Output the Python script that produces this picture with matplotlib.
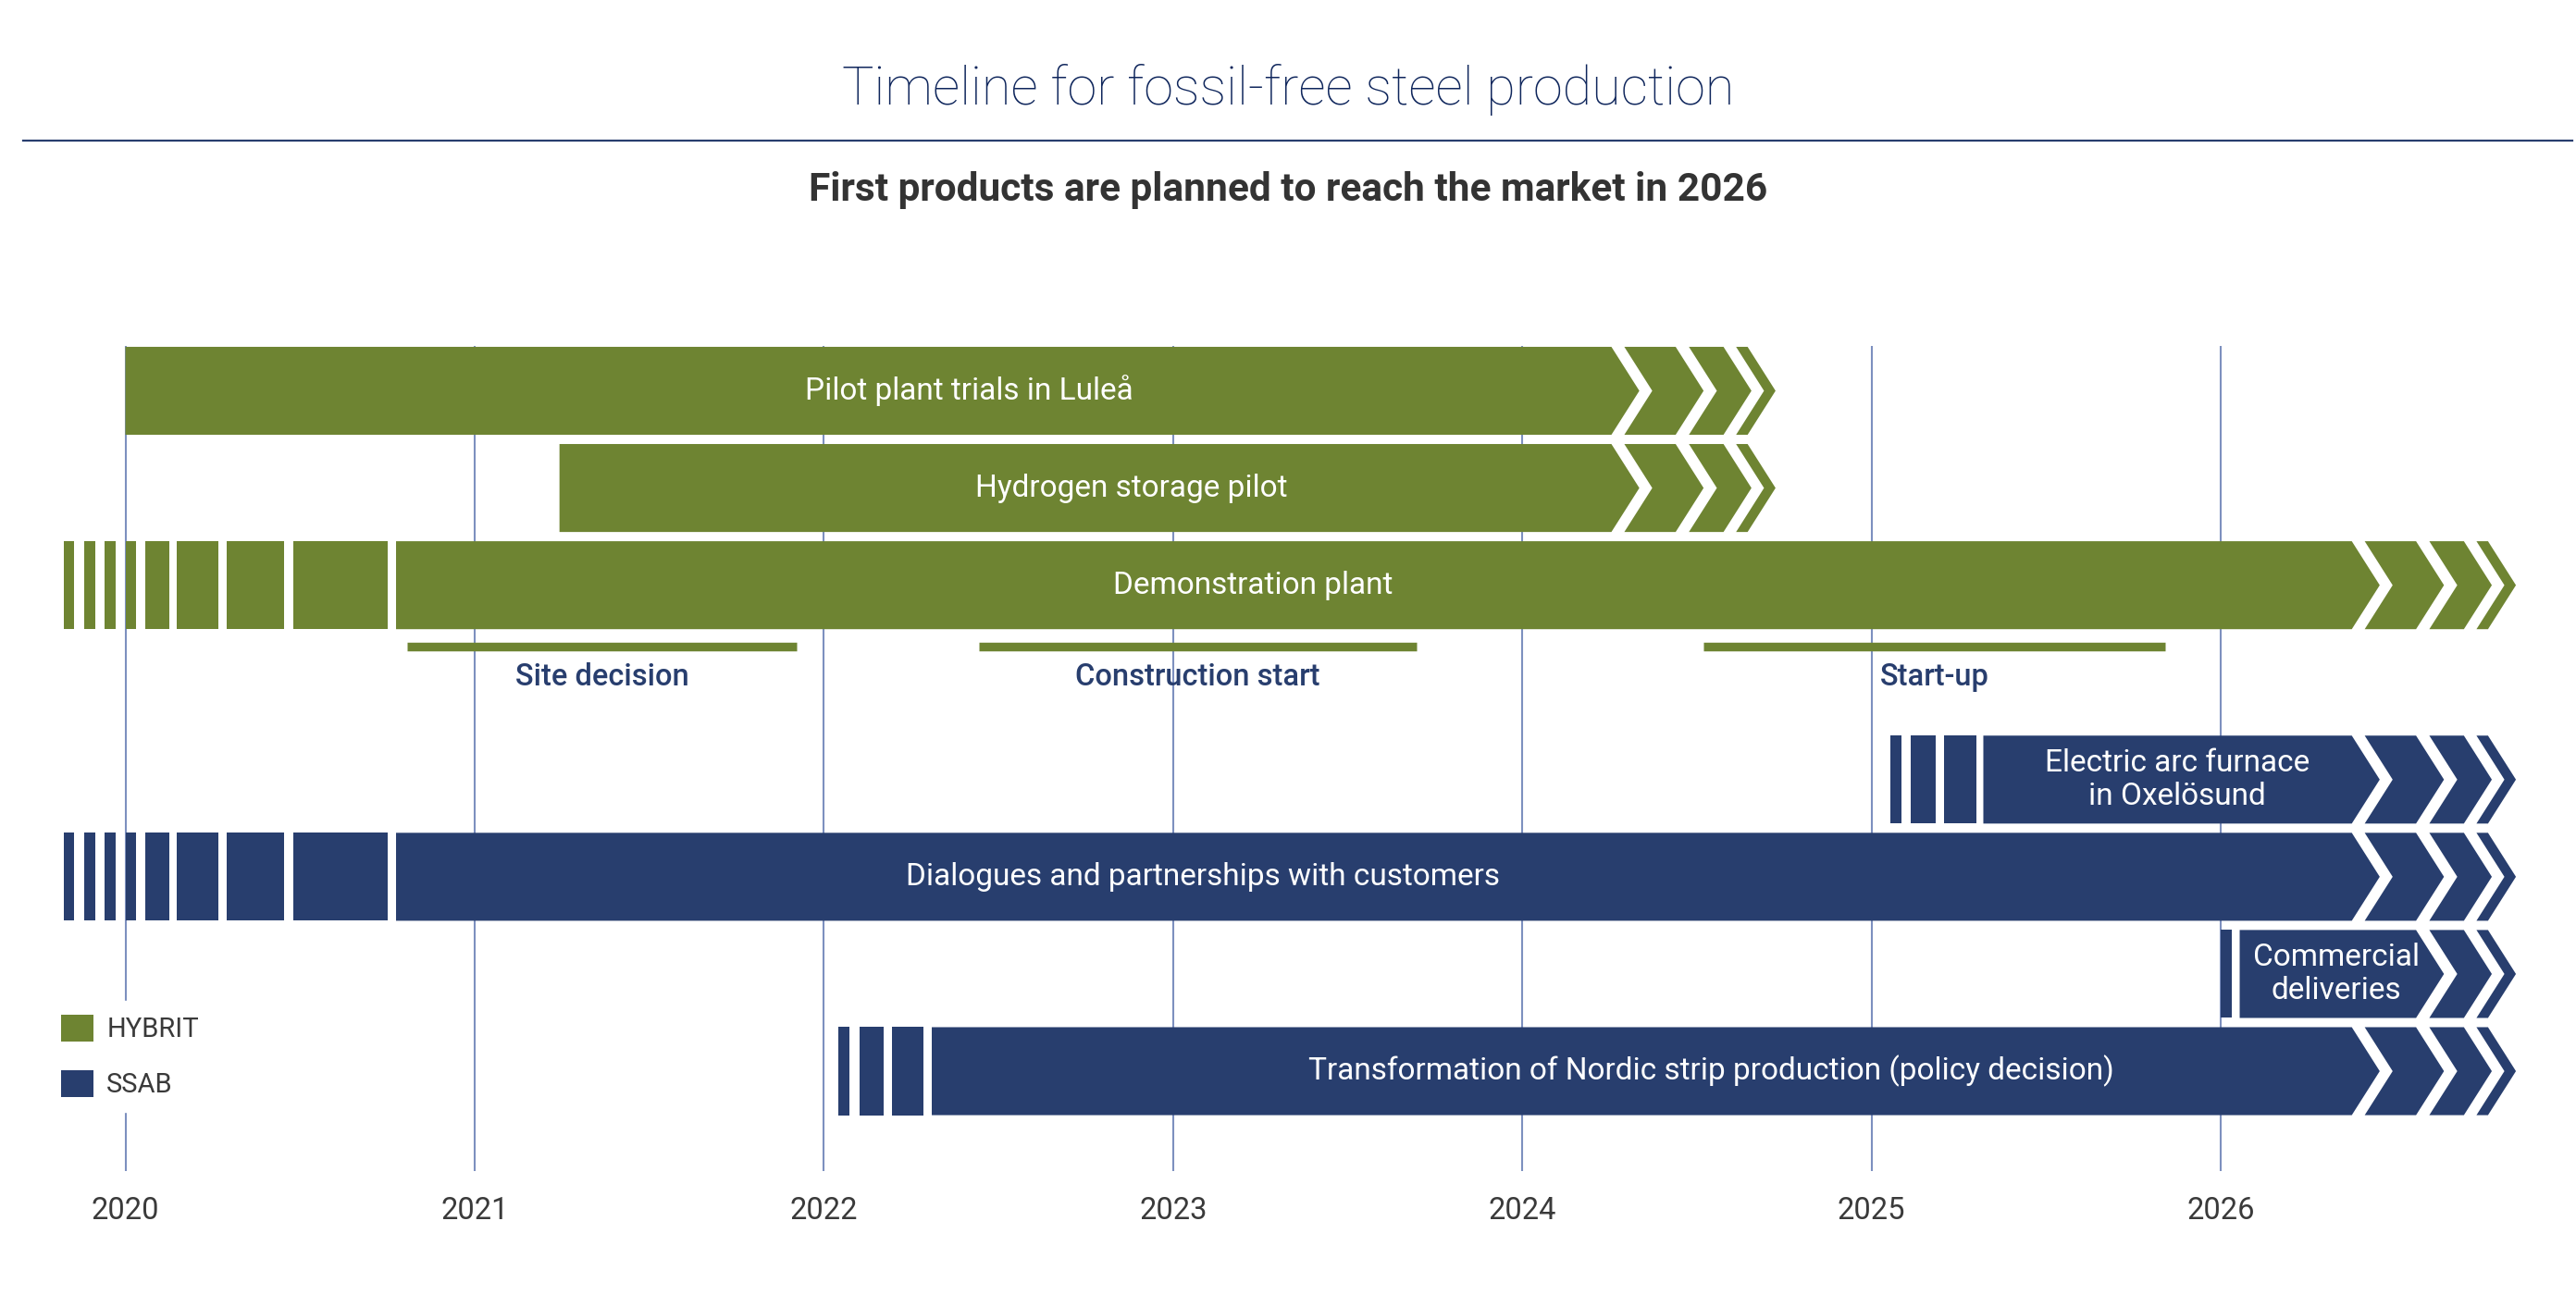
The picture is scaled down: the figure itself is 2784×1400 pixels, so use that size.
import matplotlib.pyplot as plt
from matplotlib.patches import Polygon, Patch
from matplotlib.lines import Line2D

plt.rcParams['font.family'] = ['Roboto', 'DejaVu Sans']

GREEN = "#6e8432"
NAVY = "#283e6e"
GRID = "#7d90bf"
GREY = "#3a3a3a"

# ── data ─────────────────────────────────────────────────────────────────────
years = [2020, 2021, 2022, 2023, 2024, 2025, 2026]

labels = ["Pilot plant trials in Luleå",
          "Hydrogen storage pilot",
          "Demonstration plant",
          "Electric arc furnace\nin Oxelösund",
          "Dialogues and partnerships with customers",
          "Commercial\ndeliveries",
          "Transformation of Nordic strip production (policy decision)"]
owner = ["HYBRIT", "HYBRIT", "HYBRIT", "SSAB", "SSAB", "SSAB", "SSAB"]
row = [0, 1, 2, 4, 5, 6, 7]
start = [2020.0, 2021.243, 2020.775, 2025.32, 2020.775, 2026.054, 2022.309]
end = [2024.255, 2024.255, 2026.375, 2026.375, 2026.375, 2026.559, 2026.375]
arrow_base = [2024.255, 2024.255, 2026.375, 2026.375, 2026.375, 2026.375, 2026.375]
label_at = [2022.417, 2022.88, 2023.23, 2025.875, 2023.085, 2026.33, 2024.54]

# faded lead-in stripes before the bar starts
ramp_long = [(2019.823, 2019.854), (2019.881, 2019.913), (2019.940, 2019.971),
             (2020.000, 2020.031), (2020.057, 2020.126), (2020.148, 2020.265),
             (2020.290, 2020.455), (2020.482, 2020.752)]
lead_in = [[], [], ramp_long,
           [(2025.054, 2025.085), (2025.113, 2025.183), (2025.207, 2025.299)],
           ramp_long,
           [(2026.000, 2026.031)],
           [(2022.042, 2022.074), (2022.103, 2022.172), (2022.195, 2022.285)]]

ms_labels = ["Site decision", "Construction start", "Start-up"]
ms_start = [2020.808, 2022.445, 2024.519]
ms_end = [2021.922, 2023.696, 2025.840]

# ── style ────────────────────────────────────────────────────────────────────
H = 0.905          # bar height (row units)
TIP = 0.08         # chevron depth (years)
CHEVRONS = [(0.037, 0.184), (0.222, 0.321), (0.357, 0.390)]
MS_ROW = 2.63

fig = plt.figure(figsize=(27.84, 14), dpi=100)
ax = fig.add_axes([0, 0, 1, 1])
ax.set_xlim(2019.641, 2027.017)
ax.set_ylim(9.303, -4.021)
ax.axis("off")

ax.vlines(years, -0.46, 8.03, color=GRID, lw=1.5, zorder=0)
for y in years:
    ax.text(y, 8.44, str(y), ha="center", va="center", fontsize=23.5, color=GREY)

for i, lab in enumerate(labels):
    c = GREEN if owner[i] == "HYBRIT" else NAVY
    r = row[i]
    top, bot = r - H / 2, r + H / 2
    for a, b in lead_in[i]:
        ax.add_patch(Polygon([(a, top), (b, top), (b, bot), (a, bot)],
                             closed=True, fc=c, ec="none", zorder=2))
    s, e = start[i], end[i]
    ax.add_patch(Polygon([(s, top), (e, top), (e + TIP, r), (e, bot), (s, bot)],
                         closed=True, fc=c, ec="none", zorder=2))
    for a, b in CHEVRONS:
        a, b = arrow_base[i] + a, arrow_base[i] + b
        if a < e:
            continue
        ax.add_patch(Polygon([(a, top), (b, top), (b + TIP, r), (b, bot),
                              (a, bot), (a + TIP, r)],
                             closed=True, fc=c, ec="none", zorder=2))
    ax.text(label_at[i], r, lab, ha="center", va="center", color="white",
            fontsize=24, linespacing=1.15, zorder=3)

ax.hlines([MS_ROW] * len(ms_labels), ms_start, ms_end, color=GREEN, lw=6.8,
          zorder=2)
for lab, a, b in zip(ms_labels, ms_start, ms_end):
    ax.text((a + b) / 2, 2.945, lab, ha="center", va="center", color=NAVY,
            fontsize=23.5, fontweight="medium")

# titles
fig.text(0.5, 1 - 113 / 1400, "Timeline for fossil-free steel production",
         ha="center", va="baseline", fontsize=41.5, fontweight="light",
         color="#0f265c")
fig.add_artist(Line2D([25 / 2784, 2780 / 2784], [1 - 151.5 / 1400] * 2,
                      color=NAVY, lw=1.6))
fig.text(0.5, 1 - 217 / 1400,
         "First products are planned to reach the market in 2026",
         ha="center", va="baseline", fontsize=30.5, fontweight="bold",
         color="#333333")

handles = [Patch(facecolor=GREEN, label="HYBRIT"),
           Patch(facecolor=NAVY, label="SSAB")]
fig.legend(handles=handles, loc="upper left",
           bbox_to_anchor=(51 / 2784, 1 - 1082 / 1400), frameon=True,
           fancybox=False, edgecolor="white", facecolor="white", framealpha=1,
           fontsize=21, labelcolor=GREY, handlelength=1.2, handleheight=1.2,
           handletextpad=0.5, labelspacing=1.0, borderpad=0.5,
           borderaxespad=0)

fig.savefig("out.png", dpi=100)
